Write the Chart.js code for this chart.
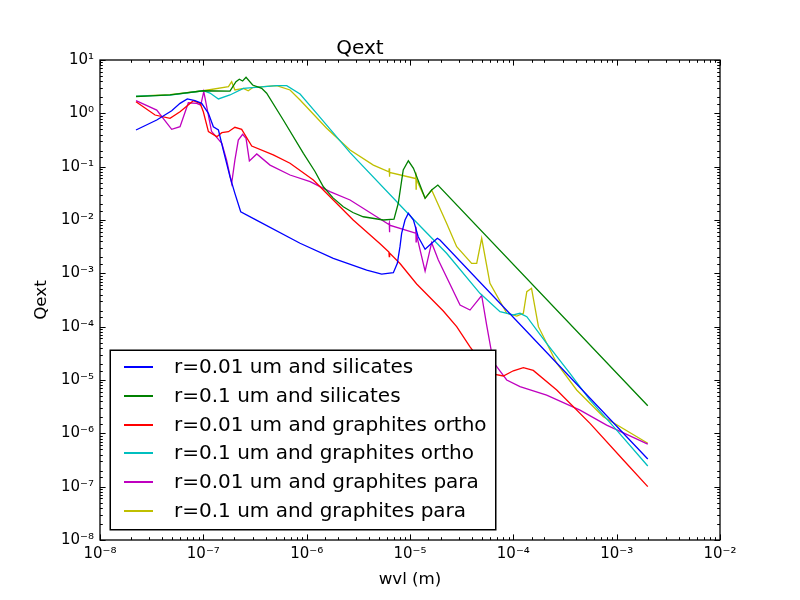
<!DOCTYPE html>
<html>
<head>
<meta charset="utf-8">
<title>Qext</title>
<script src="https://cdn.jsdelivr.net/npm/chart.js@4.4.1/dist/chart.umd.min.js"></script>
<style>
  body { margin: 0; background: #fff; }
  #wrap { position: relative; width: 800px; height: 600px; }
  #legend {
    position: absolute; left: 110px; top: 350px; width: 386px; height: 180px;
    box-sizing: border-box; border: 1px solid #000; box-shadow: 0 0 0 0.5px #000; background: #fff;
    font-family: 'DejaVu Sans', sans-serif; font-size: 20px; color: #000;
  }
  #legend .row { position: absolute; left: 0; height: 29px; width: 380px; white-space: nowrap; }
  #legend .swatch { position: absolute; left: 13px; top: 14px; width: 29px; height: 2px; }
  #legend .txt { position: absolute; left: 63px; top: 0; line-height: 29px; }
</style>
</head>
<body>
<div id="wrap">
  <canvas id="qextChart" width="800" height="600"></canvas>
  <div id="legend"></div>
</div>
<script>
// series names + matplotlib classic colours (b, g, r, c, m, y)
const seriesLabels = [
  'r=0.01 um and silicates',
  'r=0.1 um and silicates',
  'r=0.01 um and graphites ortho',
  'r=0.1 um and graphites ortho',
  'r=0.01 um and graphites para',
  'r=0.1 um and graphites para'
];
const seriesColors = ['#0000ff', '#008000', '#ff0000', '#00bfbf', '#bf00bf', '#bfbf00'];

// tick labels (decades only)
const xDecades = [-8, -7, -6, -5, -4, -3, -2];
const xTickLabels = ['10⁻⁸', '10⁻⁷', '10⁻⁶', '10⁻⁵', '10⁻⁴', '10⁻³', '10⁻²'];
const yDecades = [-8, -7, -6, -5, -4, -3, -2, -1, 0, 1];
const yTickLabels = ['10⁻⁸', '10⁻⁷', '10⁻⁶', '10⁻⁵', '10⁻⁴', '10⁻³', '10⁻²', '10⁻¹', '10⁰', '10¹'];

// wavelength (m) and Qext
const siliSmallWvl = [2.23e-8, 3.54e-8, 4.94e-8, 5.95e-8, 7.0e-8, 8.3e-8, 9.64e-8, 1.12e-7, 1.25e-7, 1.40e-7,
  1.56e-7, 1.81e-7, 2.02e-7, 2.30e-7, 3.16e-7, 8.63e-7, 1.81e-6, 3.81e-6, 5.32e-6, 6.9e-6,
  7.54e-6, 8.0e-6, 8.3e-6, 8.95e-6, 9.64e-6, 1.08e-5, 1.2e-5, 1.40e-5, 1.62e-5, 1.84e-5, 1.95e-5, 2.0e-3];
const siliSmallQext = [0.487, 0.75, 1.12, 1.54, 1.86, 1.73, 1.54, 1.0, 0.561, 0.487,
  0.205, 0.0649, 0.0316, 0.0143, 0.0103, 0.00366, 0.00191, 0.00115, 0.00097, 0.00103,
  0.00154, 0.00316, 0.00562, 0.01, 0.0134, 0.01, 0.00486, 0.00282, 0.00366, 0.00454, 0.00422, 3.3e-7];

const siliLargeWvl = [2.23e-8, 4.76e-8, 1.0e-7, 1.81e-7, 2.07e-7, 2.23e-7, 2.40e-7, 2.59e-7, 3.0e-7, 3.67e-7,
  4.1e-7, 5.94e-7, 9.3e-7, 1.2e-6, 1.45e-6, 1.8e-6, 2.26e-6, 2.8e-6, 3.53e-6, 5.52e-6, 7.0e-6, 7.7e-6, 8.6e-6,
  9.64e-6, 1.08e-5, 1.40e-5, 1.62e-5, 1.86e-5, 2.0e-3];
const siliLargeQext = [2.05, 2.21, 2.65, 2.6, 3.92, 4.35, 4.04, 4.74, 3.40, 2.94,
  2.38, 0.75, 0.178, 0.082, 0.042, 0.026, 0.0177, 0.0138, 0.0115, 0.01, 0.0104, 0.0206, 0.0865,
  0.129, 0.093, 0.0255, 0.0365, 0.0453, 3.3e-6];

const orthoSmallWvl = [2.23e-8, 3.41e-8, 4.76e-8, 5.95e-8, 8.0e-8, 9.3e-8, 1.0e-7, 1.12e-7, 1.35e-7, 1.51e-7,
  1.75e-7, 2.02e-7, 2.35e-7, 2.94e-7, 4.75e-7, 6.9e-7, 1.16e-6, 1.81e-6, 2.82e-6, 5.13e-6,
  6.25e-6, 6.3e-6, 6.35e-6, 8.0e-6, 1.16e-5, 2.1e-5, 2.83e-5, 3.81e-5, 5.94e-5, 8.0e-5,
  1.0e-4, 1.25e-4, 1.56e-4, 2.63e-4, 5.52e-4, 1.16e-3, 2.0e-3];
const orthoSmallQext = [1.65, 0.93, 0.807, 1.07, 1.73, 1.54, 1.07, 0.453, 0.365, 0.434,
  0.453, 0.547, 0.502, 0.244, 0.166, 0.116, 0.0562, 0.0237, 0.01, 0.0036,
  0.0025, 0.00205, 0.0024, 0.00153, 0.000631, 0.000197, 1.0e-4, 4.16e-5, 1.33e-5, 1.19e-5,
  1.49e-5, 1.7e-5, 1.51e-5, 6.5e-6, 1.54e-6, 3.16e-7, 1.0e-7];

const orthoLargeWvl = [2.23e-8, 4.76e-8, 1.0e-7, 1.16e-7, 1.40e-7, 1.81e-7, 2.44e-7, 5.13e-7, 6.41e-7, 8.63e-7,
  1.25e-6, 2.63e-6, 1.08e-5, 2.26e-5, 4.75e-5, 7.43e-5, 1.0e-4, 1.16e-4, 1.35e-4, 2.1e-4,
  3.53e-4, 5.52e-4, 1.0e-3, 2.0e-3];
const orthoLargeQext = [2.1, 2.2, 2.65, 2.40, 1.86, 2.21, 2.94, 3.30, 3.30, 2.3,
  1.0, 0.183, 0.0103, 0.00238, 0.000422, 0.000191, 0.000166, 0.000178, 0.000154, 4.88e-5,
  1.33e-5, 4.2e-6, 1.15e-6, 2.44e-7];

const paraSmallWvl = [2.23e-8, 3.54e-8, 4.94e-8, 5.95e-8, 7.16e-8, 8.63e-8, 9.44e-8, 1.01e-7, 1.2e-7, 1.51e-7,
  1.68e-7, 1.88e-7, 2.02e-7, 2.18e-7, 2.40e-7, 2.59e-7, 2.79e-7, 3.29e-7, 4.42e-7, 6.9e-7,
  1.08e-6, 1.68e-6, 2.63e-6, 4.75e-6, 6.25e-6, 6.3e-6, 6.33e-6, 6.36e-6, 1.13e-5, 1.14e-5,
  1.145e-5, 1.15e-5, 1.40e-5, 1.62e-5, 1.88e-5, 3.05e-5, 3.81e-5, 4.94e-5, 5.52e-5, 6.4e-5,
  8.63e-5, 1.16e-4, 2.1e-4, 4.42e-4, 8.0e-4, 2.0e-3];
const paraSmallQext = [1.73, 1.15, 0.502, 0.561, 1.58, 1.54, 1.43, 2.55, 0.46, 0.274,
  0.133, 0.0488, 0.133, 0.316, 0.404, 0.34, 0.128, 0.173, 0.107, 0.0698,
  0.0522, 0.034, 0.0237, 0.0115, 0.0082, 0.0087, 0.0059, 0.008, 0.0057, 0.0075,
  0.0039, 0.0055, 0.0011, 0.00375, 0.00178, 0.000255, 0.000205, 0.000384, 0.000107, 2.17e-5,
  1.0e-5, 7.5e-6, 5.2e-6, 2.73e-6, 1.43e-6, 6.3e-7];

const paraLargeWvl = [2.23e-8, 4.76e-8, 1.0e-7, 1.75e-7, 1.88e-7, 2.02e-7, 2.44e-7, 2.72e-7, 3.04e-7, 5.13e-7,
  6.9e-7, 8.63e-7, 1.56e-6, 2.63e-6, 4.42e-6, 6.25e-6, 6.3e-6, 6.33e-6, 6.36e-6, 1.13e-5,
  1.14e-5, 1.145e-5, 1.15e-5, 1.40e-5, 1.62e-5, 2.26e-5, 2.83e-5, 3.95e-5, 4.42e-5, 4.94e-5,
  5.94e-5, 8.63e-5, 1.08e-4, 1.25e-4, 1.35e-4, 1.50e-4, 1.75e-4, 2.63e-4, 4.1e-4, 7.43e-4, 2.0e-3];
const paraLargeQext = [2.11, 2.25, 2.65, 3.16, 3.92, 2.74, 2.94, 2.65, 3.08, 3.30,
  2.74, 1.78, 0.524, 0.205, 0.107, 0.08, 0.093, 0.065, 0.078, 0.06,
  0.078, 0.038, 0.058, 0.0255, 0.0365, 0.00867, 0.00316, 0.00154, 0.00154, 0.00454,
  0.00065, 0.000178, 0.000158, 0.000178, 0.000452, 0.000524, 0.0001, 2.06e-5, 6.5e-6, 2.05e-6, 6.5e-7];

const seriesWvl = [siliSmallWvl, siliLargeWvl, orthoSmallWvl, orthoLargeWvl, paraSmallWvl, paraLargeWvl];
const seriesQext = [siliSmallQext, siliLargeQext, orthoSmallQext, orthoLargeQext, paraSmallQext, paraLargeQext];

const FONT = "'DejaVu Sans', sans-serif";

function decadeOf(v) {
  const e = Math.log10(v);
  return Math.abs(e - Math.round(e)) < 1e-6 ? Math.round(e) : null;
}

// inward ticks on all four sides + black frame, like matplotlib
const frameTicks = {
  id: 'frameTicks',
  afterDraw(chart) {
    const { ctx, chartArea: a, scales } = chart;
    ctx.save();
    ctx.strokeStyle = '#000';
    ctx.lineWidth = 1;
    scales.x.ticks.forEach(t => {
      const px = Math.round(scales.x.getPixelForValue(t.value)) + 0.5;
      const len = decadeOf(t.value) !== null ? 5.6 : 2.8;
      ctx.beginPath();
      ctx.moveTo(px, a.bottom); ctx.lineTo(px, a.bottom - len);
      ctx.moveTo(px, a.top); ctx.lineTo(px, a.top + len);
      ctx.stroke();
    });
    scales.y.ticks.forEach(t => {
      const py = Math.round(scales.y.getPixelForValue(t.value)) + 0.5;
      const len = decadeOf(t.value) !== null ? 5.6 : 2.8;
      ctx.beginPath();
      ctx.moveTo(a.left, py); ctx.lineTo(a.left + len, py);
      ctx.moveTo(a.right, py); ctx.lineTo(a.right - len, py);
      ctx.stroke();
    });
    ctx.lineWidth = 1.3;
    ctx.strokeRect(a.left, a.top, a.right - a.left, a.bottom - a.top);
    ctx.restore();
  }
};

const datasets = seriesLabels.map((label, i) => ({
  label: label,
  data: seriesWvl[i].map((w, j) => ({ x: w, y: seriesQext[i][j] })),
  borderColor: seriesColors[i],
  backgroundColor: seriesColors[i],
  borderWidth: 1.3,
  pointRadius: 0,
  tension: 0,
  fill: false
}));

const ctx = document.getElementById('qextChart').getContext('2d');
const qextChart = new Chart(ctx, {
  type: 'line',
  data: { datasets: datasets },
  options: {
    responsive: false,
    devicePixelRatio: 1,
    animation: false,
    layout: { padding: { left: 0, right: 80, top: 0, bottom: 0 } },
    plugins: {
      legend: { display: false },
      tooltip: { enabled: false },
      title: {
        display: true,
        text: 'Qext',
        color: '#000',
        font: { family: FONT, size: 20, weight: 'normal' },
        padding: { top: 37, bottom: -1 }
      }
    },
    scales: {
      x: {
        type: 'logarithmic',
        position: 'bottom',
        min: 1e-8,
        max: 1e-2,
        grid: { display: false, drawTicks: false },
        border: { display: false },
        ticks: {
          autoSkip: false,
          maxRotation: 0,
          padding: 5,
          color: '#000',
          font: { family: FONT, size: 15 },
          callback: v => {
            const d = decadeOf(v);
            const k = xDecades.indexOf(d);
            return k >= 0 ? xTickLabels[k] : '';
          }
        },
        title: {
          display: true,
          text: 'wvl (m)',
          color: '#000',
          font: { family: FONT, size: 16.7 },
          padding: { top: 0, bottom: 10 }
        },
        afterFit: s => { s.height = 60; }
      },
      y: {
        type: 'logarithmic',
        position: 'left',
        min: 1e-8,
        max: 10,
        grid: { display: false, drawTicks: false },
        border: { display: false },
        ticks: {
          autoSkip: false,
          padding: 6,
          color: '#000',
          font: { family: FONT, size: 15 },
          callback: v => {
            const d = decadeOf(v);
            const k = yDecades.indexOf(d);
            return k >= 0 ? yTickLabels[k] : '';
          }
        },
        title: {
          display: true,
          text: 'Qext',
          color: '#000',
          font: { family: FONT, size: 16.7 },
          padding: { top: 32, bottom: 0 }
        },
        afterFit: s => { s.width = 100; }
      }
    }
  },
  plugins: [frameTicks]
});

// legend box drawn over the plot, lower left like the original
const legendBox = document.getElementById('legend');
seriesLabels.forEach((label, i) => {
  const row = document.createElement('div');
  row.className = 'row';
  row.style.top = Math.round(1 + i * 28.8) + 'px';
  const sw = document.createElement('span');
  sw.className = 'swatch';
  sw.style.backgroundColor = seriesColors[i];
  const txt = document.createElement('span');
  txt.className = 'txt';
  txt.textContent = label;
  row.appendChild(sw);
  row.appendChild(txt);
  legendBox.appendChild(row);
});
</script>
</body>
</html>
